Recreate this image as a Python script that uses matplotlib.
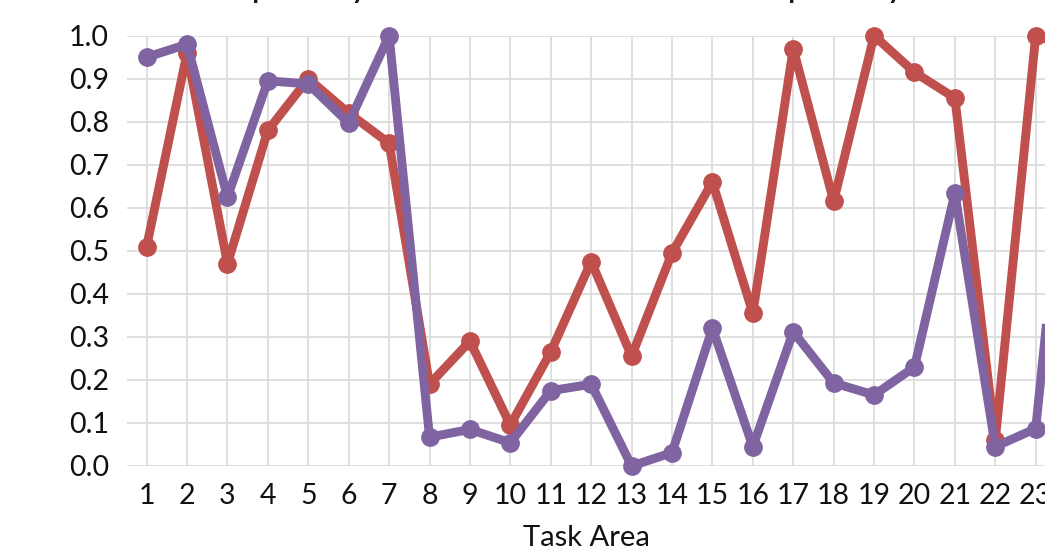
import numpy as np
import matplotlib
matplotlib.use("Agg")
import matplotlib.pyplot as plt
from matplotlib.ticker import FormatStrFormatter

plt.rcParams['font.family'] = ['Lato', 'DejaVu Sans']

# task areas and the two specificity series
task_area = np.arange(1, 25)
spec_red = [0.51, 0.96, 0.47, 0.78, 0.90, 0.82, 0.75, 0.19, 0.29, 0.095, 0.265, 0.475,
            0.255, 0.495, 0.66, 0.355, 0.97, 0.615, 1.0, 0.915, 0.855, 0.06, 1.0, 0.97]
spec_purple = [0.95, 0.98, 0.625, 0.895, 0.888, 0.797, 1.0, 0.067, 0.085, 0.054, 0.175, 0.19,
               0.0, 0.031, 0.32, 0.045, 0.312, 0.193, 0.165, 0.23, 0.634, 0.045, 0.087, 1.0]
x_ticks = list(range(1, 24))
y_ticks = np.arange(0, 1.01, 0.1)

fig = plt.figure(figsize=(10.45, 5.55), dpi=100)
ax = fig.add_axes([0.1215, 0.1604, 0.8785, 0.7753])

ax.plot(task_area, spec_red, color="#C0504D", lw=6.4, marker="o", ms=12.5,
        solid_joinstyle="round", clip_on=False, zorder=3)
ax.plot(task_area, spec_purple, color="#8064A2", lw=6.4, marker="o", ms=12.5,
        solid_joinstyle="round", clip_on=False, zorder=4)

ax.set_xlim(0.513, 23.23)
ax.set_ylim(0, 1)
ax.set_xticks(x_ticks)
ax.set_yticks(y_ticks)
ax.yaxis.set_major_formatter(FormatStrFormatter("%.1f"))
ax.grid(True, color="#dcdcdc", lw=1.3)
ax.set_axisbelow(True)
for s in ax.spines.values():
    s.set_visible(False)
ax.tick_params(axis="both", length=0, labelsize=20.5, colors="#111111")
ax.tick_params(axis="y", pad=13)
ax.tick_params(axis="x", pad=12)
ax.set_xlabel("Task Area", fontsize=21, color="#111111", labelpad=12)

fig.text(0.227, 1.004, "Specificity of the Reference Model and the Specificity of the New Model",
         fontsize=20, fontweight="bold", ha="left", va="baseline", color="#1a1a1a")

fig.savefig("out.png", dpi=100)
